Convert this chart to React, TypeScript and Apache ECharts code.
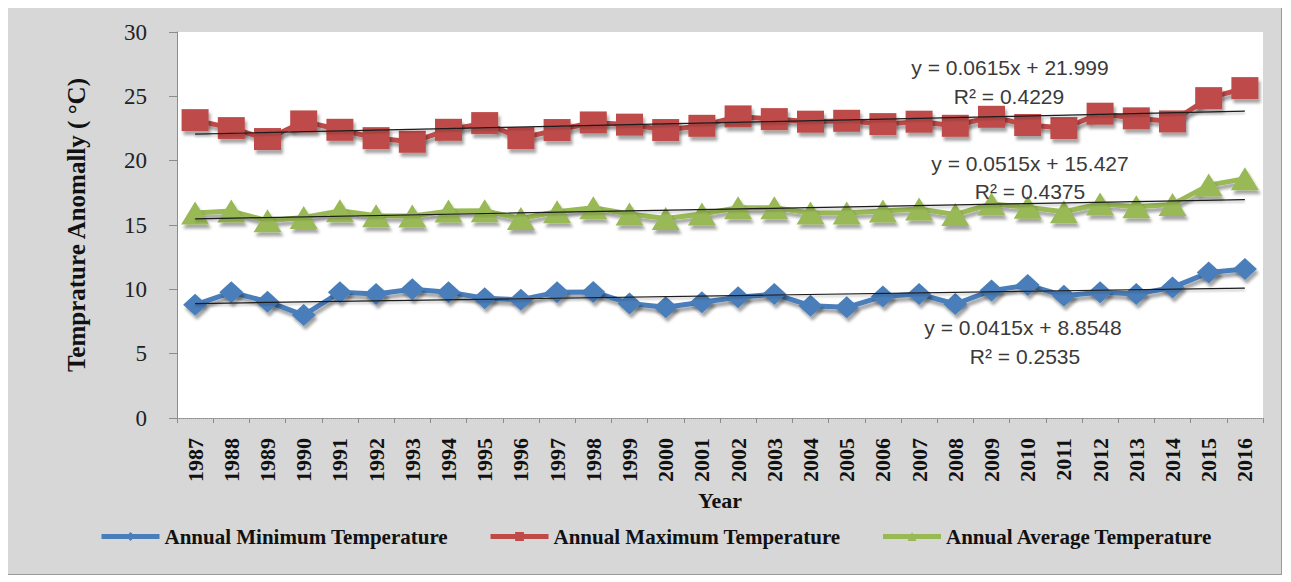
import React, { useEffect, useRef } from "react";
import * as echarts from "echarts";

const years = [
  "1987", "1988", "1989", "1990", "1991", "1992", "1993", "1994", "1995", "1996",
  "1997", "1998", "1999", "2000", "2001", "2002", "2003", "2004", "2005", "2006",
  "2007", "2008", "2009", "2010", "2011", "2012", "2013", "2014", "2015", "2016",
];

const minTemp = [
  8.8, 9.77, 9.04, 8.0, 9.77, 9.63, 10.0, 9.77, 9.3, 9.2,
  9.77, 9.8, 8.9, 8.6, 9.0, 9.38, 9.63, 8.73, 8.6, 9.45,
  9.63, 8.86, 9.9, 10.33, 9.5, 9.77, 9.63, 10.15, 11.3, 11.58,
];

const maxTemp = [
  23.15, 22.53, 21.68, 23.05, 22.4, 21.75, 21.47, 22.4, 22.92, 21.75,
  22.38, 22.97, 22.8, 22.38, 22.71, 23.44, 23.23, 23.03, 23.1, 22.84,
  23.03, 22.71, 23.41, 22.77, 22.53, 23.65, 23.29, 23.05, 24.86, 25.64,
];

const avgTemp = [
  15.93, 16.08, 15.33, 15.59, 16.1, 15.72, 15.7, 16.08, 16.1, 15.5,
  16.03, 16.34, 15.85, 15.5, 15.85, 16.34, 16.34, 15.93, 15.93, 16.08,
  16.24, 15.82, 16.63, 16.37, 16.03, 16.63, 16.42, 16.6, 18.1, 18.6,
];

const seriesNames = [
  "Annual Minimum Temperature",
  "Annual Maximum Temperature",
  "Annual Average Temperature",
];

// trend-line equations shown on the chart (x = 1..30)
const trendSlopes = [0.0415, 0.0615, 0.0515];
const trendIntercepts = [8.8548, 21.999, 15.427];

const equationLabels = [
  "y = 0.0415x + 8.8548",
  "y = 0.0615x + 21.999",
  "y = 0.0515x + 15.427",
];
const r2Labels = ["R² = 0.2535", "R² = 0.4229", "R² = 0.4375"];

const yTicks = [0, 5, 10, 15, 20, 25, 30];

const SERIF = "'Liberation Serif', 'Times New Roman', serif";
const SANS = "'Liberation Sans', Arial, sans-serif";

export default function App() {
  const ref = useRef<HTMLDivElement>(null);

  useEffect(() => {
    if (!ref.current) return;
    const chart = echarts.init(ref.current, null, { renderer: "svg" });

    const colors = ["#4A7EBB", "#BE4B48", "#98B954"];
    const symbols = ["diamond", "rect", "triangle"];
    const sizes: any = [[24, 22], [27, 22], [28, 23]];
    const data = [minTemp, maxTemp, avgTemp];

    const shadow = {
      shadowColor: "rgba(0,0,0,0.35)",
      shadowBlur: 3,
      shadowOffsetX: 2,
      shadowOffsetY: 4,
    };

    const mainSeries = data.map((d, i) => ({
      name: seriesNames[i],
      type: "line",
      data: d,
      symbol: symbols[i],
      symbolSize: sizes[i],
      showSymbol: true,
      lineStyle: { color: colors[i], width: 5, ...shadow },
      itemStyle: { color: colors[i], ...shadow },
      z: 2,
    }));

    const trendSeries = trendSlopes.map((s, i) => ({
      name: "trend" + i,
      type: "line",
      data: [
        [years[0], trendIntercepts[i] + s * 1],
        [years[years.length - 1], trendIntercepts[i] + s * years.length],
      ],
      symbol: "none",
      lineStyle: {
        color: "#1a1a1a",
        width: 1.2,
        shadowColor: "rgba(0,0,0,0.3)",
        shadowBlur: 2,
        shadowOffsetY: 2,
      },
      z: 5,
      silent: true,
    }));

    const annoText = (text: string, x: number, y: number) => ({
      type: "text",
      x,
      y,
      style: {
        text,
        fontFamily: SANS,
        fontSize: 21,
        fill: "#3a3a3a",
        align: "center",
        verticalAlign: "middle",
      },
      z: 10,
    });

    chart.setOption({
      animation: false,
      backgroundColor: "transparent",
      grid: {
        left: 169,
        right: 18,
        top: 24,
        bottom: 156,
        show: true,
        backgroundColor: "#ffffff",
        borderWidth: 0,
      },
      legend: {
        data: seriesNames,
        left: 86,
        top: 513,
        itemWidth: 58,
        itemHeight: 11,
        itemGap: 40,
        lineStyle: { width: 5 },
        textStyle: {
          fontFamily: SERIF,
          fontWeight: "bold",
          fontSize: 21,
          color: "#111",
        },
      },
      xAxis: {
        type: "category",
        data: years,
        boundaryGap: true,
        name: "Year",
        nameLocation: "middle",
        nameGap: 68,
        nameTextStyle: {
          fontFamily: SERIF,
          fontWeight: "bold",
          fontSize: 22,
          color: "#111",
        },
        axisLine: { show: true, lineStyle: { color: "#8c8c8c", width: 1, type: "dotted" } },
        axisTick: { show: true, alignWithLabel: false, length: 5, lineStyle: { color: "#8c8c8c" } },
        axisLabel: {
          rotate: 90,
          margin: 20,
          interval: 0,
          fontFamily: SERIF,
          fontWeight: "bold",
          fontSize: 22,
          color: "#111",
        },
        splitLine: { show: false },
      },
      yAxis: {
        type: "value",
        min: yTicks[0],
        max: yTicks[yTicks.length - 1],
        interval: 5,
        name: "Temprature Anomally ( °C)",
        nameLocation: "middle",
        nameGap: 88,
        nameTextStyle: {
          fontFamily: SERIF,
          fontWeight: "bold",
          fontSize: 25,
          color: "#111",
        },
        axisLine: { show: true, lineStyle: { color: "#8c8c8c", width: 1 } },
        axisTick: { show: true, inside: false, length: 8, lineStyle: { color: "#8c8c8c" } },
        axisLabel: {
          margin: 30,
          fontFamily: SERIF,
          fontSize: 23,
          color: "#222",
        },
        splitLine: { show: false },
      },
      graphic: [
        annoText(equationLabels[1], 1002, 59),
        annoText(r2Labels[1], 1001, 88),
        annoText(equationLabels[2], 1022, 155),
        annoText(r2Labels[2], 1022, 183),
        annoText(equationLabels[0], 1015, 319),
        annoText(r2Labels[0], 1017, 348),
      ],
      series: [...mainSeries, ...trendSeries],
    });

    return () => chart.dispose();
  }, []);

  return (
    <div
      ref={ref}
      style={{
        width: 1273,
        height: 566,
        background: "#d7d7d7",
        border: "1px solid #9a9a9a",
        marginLeft: -1,
        marginTop: -1,
      }}
    />
  );
}
